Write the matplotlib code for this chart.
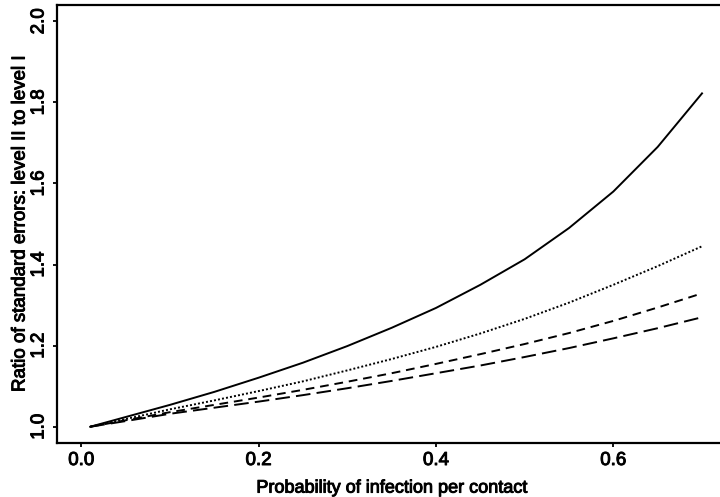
import numpy as np
import matplotlib
matplotlib.use("Agg")
import matplotlib.pyplot as plt
import matplotlib.patheffects as pe

plt.rcParams['font.family'] = ['Liberation Sans', 'DejaVu Sans']

# probability of infection per contact
p = [0.01, 0.05, 0.1, 0.15, 0.2, 0.25, 0.3, 0.35, 0.4, 0.45, 0.5, 0.55, 0.6, 0.65, 0.7]

# ratio of standard errors, one curve per scenario
ratio_solid = [1.0, 1.024, 1.054, 1.086, 1.121, 1.158, 1.199, 1.244, 1.293, 1.350,
               1.413, 1.490, 1.580, 1.690, 1.822]
ratio_dotted = [1.0, 1.019, 1.043, 1.065, 1.088, 1.112, 1.139, 1.167, 1.197, 1.230,
                1.266, 1.306, 1.350, 1.396, 1.445]
ratio_dashed = [1.0, 1.016, 1.036, 1.054, 1.072, 1.091, 1.111, 1.132, 1.155, 1.179,
                1.204, 1.231, 1.261, 1.294, 1.329]
ratio_longdash = [1.0, 1.014, 1.032, 1.047, 1.062, 1.078, 1.095, 1.113, 1.132, 1.151,
                  1.172, 1.194, 1.218, 1.243, 1.270]

fig = plt.figure(figsize=(7.2, 4.97), dpi=100)
ax = fig.add_axes([0.0785, 0.1087, 0.931, 0.8813])

lw = 1.4
ax.plot(p, ratio_solid, color='black', lw=lw, linestyle='-')
ax.plot(p, ratio_dotted, color='black', lw=lw, linestyle=(0, (1, 1.1)))
ax.plot(p, ratio_dashed, color='black', lw=lw, linestyle=(0, (4.5, 3)))
ax.plot(p, ratio_longdash, color='black', lw=lw, linestyle=(0, (7.5, 3.2)))

ax.set_xlim(-0.028, 0.728)
ax.set_ylim(0.96, 2.04)
ax.set_xticks([0.0, 0.2, 0.4, 0.6])
ax.set_yticks([1.0, 1.2, 1.4, 1.6, 1.8, 2.0])
ax.set_xticklabels(['0.0', '0.2', '0.4', '0.6'])
ax.set_yticklabels(['1.0', '1.2', '1.4', '1.6', '1.8', '2.0'], rotation=90, va='center')
ax.tick_params(direction='out', length=3, width=1.3, labelsize=13.5, pad=3.5)

for s in ax.spines.values():
    s.set_linewidth(1.6)

ax.set_xlabel("Probability of infection per contact", fontsize=13)
ax.set_ylabel("Ratio of standard errors: level II to level I", fontsize=13.5)
ax.xaxis.set_label_coords(0.5, -0.103)
ax.xaxis.label.set_va('center')
ax.yaxis.set_label_coords(-0.0544, 0.5)
ax.yaxis.label.set_va('center')

# heavier strokes, like the scanned print
thick = [pe.withStroke(linewidth=0.7, foreground='black')]
for t in ax.get_xticklabels() + ax.get_yticklabels() + [ax.xaxis.label, ax.yaxis.label]:
    t.set_path_effects(thick)

fig.savefig("out.png", dpi=100)
